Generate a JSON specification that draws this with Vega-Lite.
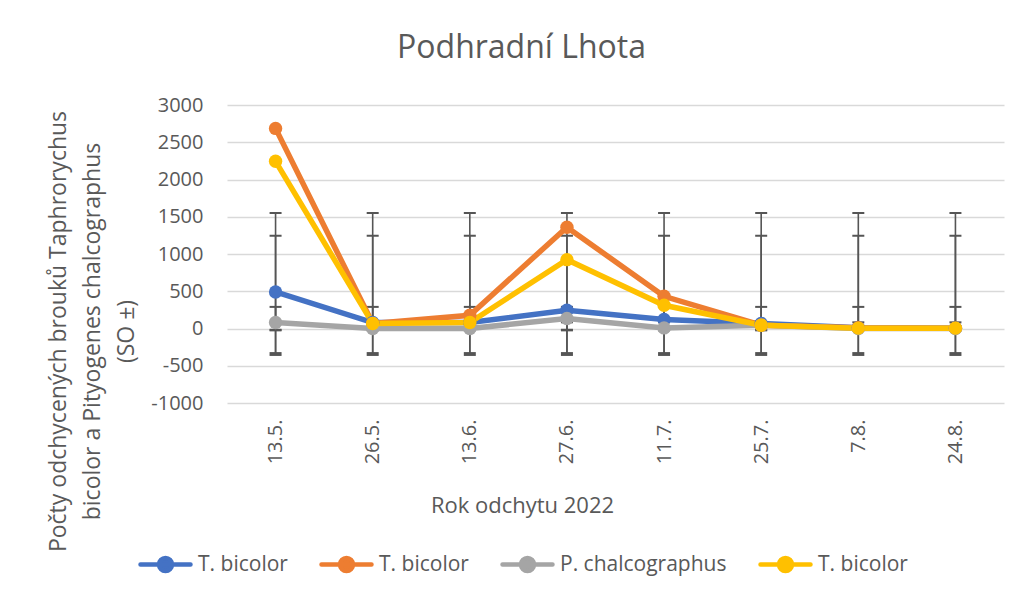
{
  "$schema": "https://vega.github.io/schema/vega-lite/v6.json",
  "width": 777,
  "height": 298,
  "autosize": "none",
  "padding": {"left": 227, "top": 105, "right": 22, "bottom": 196},
  "background": "white",
  "title": {"text": "Podhradní Lhota", "fontSize": 32, "font": "Open Sans", "fontWeight": "normal", "color": "#595959", "anchor": "middle", "dx": -94, "offset": 30},
  "config": {
    "view": {"stroke": null},
    "font": "Open Sans",
    "axisY": {
      "values": [-1000, -500, 0, 500, 1000, 1500, 2000, 2500, 3000],
      "labelExpr": "'' + datum.value",
      "labelFontSize": 20, "labelColor": "#595959", "labelPadding": 24,
      "ticks": false, "domain": false, "grid": true, "gridColor": "#D9D9D9", "gridWidth": 1.5,
      "titleFontSize": 23, "titleFontWeight": "normal", "titleColor": "#595959",
      "titleX": -169, "titleY": 226, "titleAngle": -90, "titleAlign": "center", "titleBaseline": "middle", "titleLineHeight": 34
    }
  },
  "data": {"values": [
    {"date": "13.5.", "series": "A", "value": 490, "lo": -25, "hi": 290},
    {"date": "26.5.", "series": "A", "value": 80, "lo": -25, "hi": 290},
    {"date": "13.6.", "series": "A", "value": 80, "lo": -25, "hi": 290},
    {"date": "27.6.", "series": "A", "value": 245, "lo": -25, "hi": 290},
    {"date": "11.7.", "series": "A", "value": 120, "lo": -25, "hi": 290},
    {"date": "25.7.", "series": "A", "value": 67, "lo": -25, "hi": 290},
    {"date": "7.8.", "series": "A", "value": 10, "lo": -25, "hi": 290},
    {"date": "24.8.", "series": "A", "value": 5, "lo": -25, "hi": 290},
    {"date": "13.5.", "series": "B", "value": 2686, "lo": -355, "hi": 1550},
    {"date": "26.5.", "series": "B", "value": 67, "lo": -355, "hi": 1550},
    {"date": "13.6.", "series": "B", "value": 178, "lo": -355, "hi": 1550},
    {"date": "27.6.", "series": "B", "value": 1360, "lo": -355, "hi": 1550},
    {"date": "11.7.", "series": "B", "value": 432, "lo": -355, "hi": 1550},
    {"date": "25.7.", "series": "B", "value": 44, "lo": -355, "hi": 1550},
    {"date": "7.8.", "series": "B", "value": 10, "lo": -355, "hi": 1550},
    {"date": "24.8.", "series": "B", "value": 5, "lo": -355, "hi": 1550},
    {"date": "13.5.", "series": "C", "value": 80, "lo": -17, "hi": 83},
    {"date": "26.5.", "series": "C", "value": 0, "lo": -17, "hi": 83},
    {"date": "13.6.", "series": "C", "value": 0, "lo": -17, "hi": 83},
    {"date": "27.6.", "series": "C", "value": 134, "lo": -17, "hi": 83},
    {"date": "11.7.", "series": "C", "value": 8, "lo": -17, "hi": 83},
    {"date": "25.7.", "series": "C", "value": 44, "lo": -17, "hi": 83},
    {"date": "7.8.", "series": "C", "value": 0, "lo": -17, "hi": 83},
    {"date": "24.8.", "series": "C", "value": 0, "lo": -17, "hi": 83},
    {"date": "13.5.", "series": "D", "value": 2244, "lo": -330, "hi": 1245},
    {"date": "26.5.", "series": "D", "value": 67, "lo": -330, "hi": 1245},
    {"date": "13.6.", "series": "D", "value": 80, "lo": -330, "hi": 1245},
    {"date": "27.6.", "series": "D", "value": 924, "lo": -330, "hi": 1245},
    {"date": "11.7.", "series": "D", "value": 312, "lo": -330, "hi": 1245},
    {"date": "25.7.", "series": "D", "value": 44, "lo": -330, "hi": 1245},
    {"date": "7.8.", "series": "D", "value": 5, "lo": -330, "hi": 1245},
    {"date": "24.8.", "series": "D", "value": 5, "lo": -330, "hi": 1245}
  ]},
  "encoding": {
    "x": {
      "field": "date", "type": "ordinal",
      "sort": ["13.5.", "26.5.", "13.6.", "27.6.", "11.7.", "25.7.", "7.8.", "24.8."],
      "scale": {"type": "point", "padding": 0.5},
      "axis": {
        "title": "Rok odchytu 2022", "labelAngle": -90, "labelAlign": "right", "labelBaseline": "middle",
        "labelPadding": 16, "labelFontSize": 20, "labelColor": "#595959", "ticks": false, "domain": false, "grid": false,
        "titleFontSize": 22, "titleColor": "#595959", "titleFontWeight": "normal",
        "titleX": 295, "titleY": 102, "titleBaseline": "middle", "titleAlign": "center"
      }
    }
  },
  "layer": [
    {
      "mark": {"type": "rule", "color": "#555555", "strokeWidth": 1.6},
      "encoding": {
        "y": {"field": "lo", "type": "quantitative", "scale": {"domain": [-1000, 3000], "nice": false}, "title": ["Počty odchycených brouků Taphrorychus", "bicolor a Pityogenes chalcographus", "(SO ±)"]},
        "y2": {"field": "hi"}
      }
    },
    {
      "mark": {"type": "tick", "color": "#555555", "size": 12, "thickness": 2, "opacity": 1},
      "encoding": {"y": {"field": "lo", "type": "quantitative", "title": ["Počty odchycených brouků Taphrorychus", "bicolor a Pityogenes chalcographus", "(SO ±)"]}}
    },
    {
      "mark": {"type": "tick", "color": "#555555", "size": 12, "thickness": 2, "opacity": 1},
      "encoding": {"y": {"field": "hi", "type": "quantitative", "title": ["Počty odchycených brouků Taphrorychus", "bicolor a Pityogenes chalcographus", "(SO ±)"]}}
    },
    {
      "mark": {"type": "line", "strokeWidth": 5.5},
      "encoding": {
        "y": {"field": "value", "type": "quantitative", "title": ["Počty odchycených brouků Taphrorychus", "bicolor a Pityogenes chalcographus", "(SO ±)"]},
        "color": {
          "field": "series", "type": "nominal",
          "scale": {"domain": ["A", "B", "C", "D"], "range": ["#4472C4", "#ED7D31", "#A5A5A5", "#FFC000"]},
          "legend": {
            "orient": "none", "legendX": -89, "legendY": 432, "direction": "horizontal", "title": null,
            "labelExpr": "{'A': 'T. bicolor', 'B': 'T. bicolor', 'C': 'P. chalcographus', 'D': 'T. bicolor'}[datum.label]",
            "labelFontSize": 21, "labelColor": "#595959", "labelLimit": 400,
            "symbolType": "M-1,0L1,0M-0.26,0A0.26,0.26,0,1,0,0.26,0A0.26,0.26,0,1,0,-0.26,0Z",
            "symbolSize": 2500, "symbolStrokeWidth": 4.5, "labelOffset": 5, "columnPadding": 24, "symbolOpacity": 1,
            "encode": {"symbols": {"update": {"fill": {"field": "value", "scale": "color"}, "stroke": {"field": "value", "scale": "color"}, "strokeCap": {"value": "round"}}}}
          }
        }
      }
    },
    {
      "mark": {"type": "point", "filled": true, "size": 180, "opacity": 1},
      "encoding": {
        "y": {"field": "value", "type": "quantitative", "title": ["Počty odchycených brouků Taphrorychus", "bicolor a Pityogenes chalcographus", "(SO ±)"]},
        "color": {"field": "series", "type": "nominal"}
      }
    }
  ]
}
